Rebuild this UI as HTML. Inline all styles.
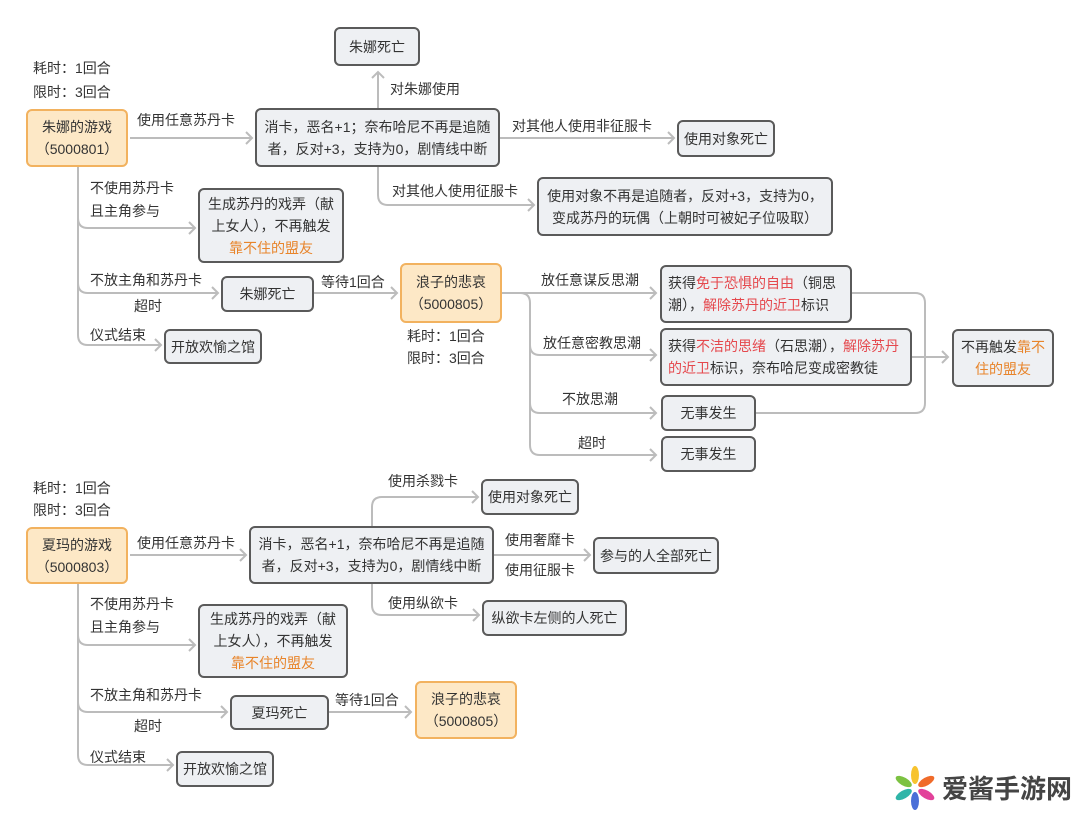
<!DOCTYPE html>
<html><head><meta charset="utf-8"><style>
body{margin:0;width:1080px;height:814px;background:#fff;position:relative;overflow:hidden;font-family:"Liberation Sans","Noto Sans CJK SC",sans-serif;font-size:14px;color:#333}
.b{position:absolute;box-sizing:border-box;border:2px solid #5a5a5a;border-radius:6px;background:#eef0f3;display:flex;align-items:center;justify-content:center;text-align:center;line-height:22px;padding:0 3px}
.b>div{width:100%}
.o{background:#fde8c6;border-color:#f2b25f}
.t{position:absolute;white-space:nowrap;line-height:20px}
.r{color:#e5484d}.y{color:#e8842a}
svg{position:absolute;left:0;top:0}
</style></head><body>
<svg width="1080" height="814" fill="none" stroke="#bcbcbc" stroke-width="2">
<path d="M130 138H252"/><polyline points="246,132 252,138 246,144"/>
<path d="M378 108V72"/><polyline points="372,78 378,72 384,78"/>
<path d="M500 138H674"/><polyline points="668,132 674,138 668,144"/>
<path d="M378 167V195Q378 205 388 205H534"/><polyline points="528,199 534,205 528,211"/>
<path d="M78 167V218Q78 228 88 228H195"/><polyline points="189,222 195,228 189,234"/>
<path d="M78 167V283Q78 293 88 293H218"/><polyline points="212,287 218,293 212,299"/>
<path d="M78 167V335Q78 345 88 345H161"/><polyline points="155,339 161,345 155,351"/>
<path d="M314 293H397"/><polyline points="391,287 397,293 391,299"/>
<path d="M502 293H656"/><polyline points="650,287 656,293 650,299"/>
<path d="M520 293Q530 293 530 303V445Q530 455 540 455H656"/>
<path d="M530 345Q530 355 540 355H656"/><polyline points="650,349 656,355 650,361"/>
<path d="M530 403Q530 413 540 413H656"/><polyline points="650,407 656,413 650,419"/>
<polyline points="650,449 656,455 650,461"/>
<path d="M852 293H915Q925 293 925 303V403Q925 413 915 413H756"/>
<path d="M912 357H948"/><polyline points="942,351 948,357 942,363"/>
<path d="M130 555H246"/><polyline points="240,549 246,555 240,561"/>
<path d="M372 526V507Q372 497 382 497H478"/><polyline points="472,491 478,497 472,503"/>
<path d="M494 555H590"/><polyline points="584,549 590,555 584,561"/>
<path d="M372 584V605Q372 615 382 615H479"/><polyline points="473,609 479,615 473,621"/>
<path d="M78 584V635Q78 645 88 645H195"/><polyline points="189,639 195,645 189,651"/>
<path d="M78 584V702Q78 712 88 712H227"/><polyline points="221,706 227,712 221,718"/>
<path d="M78 584V755Q78 765 88 765H173"/><polyline points="167,759 173,765 167,771"/>
<path d="M329 712H411"/><polyline points="405,706 411,712 405,718"/>
</svg>

<div class="b" style="left:334px;top:27px;width:86px;height:39px"><div>朱娜死亡</div></div>
<div class="t" style="left:33px;top:58px">耗时：1回合</div>
<div class="t" style="left:33px;top:82px">限时：3回合</div>
<div class="b o" style="left:26px;top:109px;width:102px;height:58px"><div>朱娜的游戏<br>（5000801）</div></div>
<div class="t" style="left:137px;top:110px">使用任意苏丹卡</div>
<div class="t" style="left:390px;top:79px">对朱娜使用</div>
<div class="b" style="left:255px;top:108px;width:245px;height:59px"><div>消卡，恶名+1；奈布哈尼不再是追随者，反对+3，支持为0，剧情线中断</div></div>
<div class="t" style="left:512px;top:116px">对其他人使用非征服卡</div>
<div class="b" style="left:677px;top:120px;width:98px;height:37px"><div>使用对象死亡</div></div>
<div class="t" style="left:392px;top:181px">对其他人使用征服卡</div>
<div class="b" style="left:537px;top:177px;width:296px;height:59px"><div>使用对象不再是追随者，反对+3，支持为0，变成苏丹的玩偶（上朝时可被妃子位吸取）</div></div>
<div class="t" style="left:90px;top:178px">不使用苏丹卡</div>
<div class="t" style="left:90px;top:201px">且主角参与</div>
<div class="b" style="left:198px;top:188px;width:146px;height:75px"><div>生成苏丹的戏弄（献<br>上女人），不再触发<br><span class="y">靠不住的盟友</span></div></div>
<div class="t" style="left:90px;top:270px">不放主角和苏丹卡</div>
<div class="t" style="left:134px;top:296px">超时</div>
<div class="b" style="left:221px;top:276px;width:93px;height:36px"><div>朱娜死亡</div></div>
<div class="t" style="left:90px;top:325px">仪式结束</div>
<div class="b" style="left:164px;top:329px;width:98px;height:35px"><div>开放欢愉之馆</div></div>
<div class="t" style="left:321px;top:272px">等待1回合</div>
<div class="b o" style="left:400px;top:263px;width:102px;height:60px"><div>浪子的悲哀<br>（5000805）</div></div>
<div class="t" style="left:407px;top:326px">耗时：1回合</div>
<div class="t" style="left:407px;top:348px">限时：3回合</div>
<div class="t" style="left:541px;top:270px">放任意谋反思潮</div>
<div class="t" style="left:543px;top:333px">放任意密教思潮</div>
<div class="t" style="left:562px;top:389px">不放思潮</div>
<div class="t" style="left:578px;top:433px">超时</div>
<div class="b" style="left:660px;top:265px;width:192px;height:58px;text-align:left;padding:0 6px"><div>获得<span class="r">免于恐惧的自由</span>（铜思潮），<span class="r">解除苏丹的近卫</span>标识</div></div>
<div class="b" style="left:660px;top:328px;width:252px;height:58px;text-align:left;padding:0 6px"><div>获得<span class="r">不洁的思绪</span>（石思潮），<span class="r">解除苏丹的近卫</span>标识，奈布哈尼变成密教徒</div></div>
<div class="b" style="left:661px;top:395px;width:95px;height:36px"><div>无事发生</div></div>
<div class="b" style="left:661px;top:436px;width:95px;height:36px"><div>无事发生</div></div>
<div class="b" style="left:952px;top:329px;width:102px;height:58px"><div>不再触发<span class="y">靠不住的盟友</span></div></div>

<div class="t" style="left:33px;top:478px">耗时：1回合</div>
<div class="t" style="left:33px;top:500px">限时：3回合</div>
<div class="b o" style="left:26px;top:527px;width:102px;height:57px"><div>夏玛的游戏<br>（5000803）</div></div>
<div class="t" style="left:137px;top:533px">使用任意苏丹卡</div>
<div class="b" style="left:249px;top:526px;width:245px;height:58px"><div>消卡，恶名+1，奈布哈尼不再是追随者，反对+3，支持为0，剧情线中断</div></div>
<div class="t" style="left:388px;top:471px">使用杀戮卡</div>
<div class="b" style="left:481px;top:479px;width:98px;height:36px"><div>使用对象死亡</div></div>
<div class="t" style="left:505px;top:530px">使用奢靡卡</div>
<div class="t" style="left:505px;top:560px">使用征服卡</div>
<div class="b" style="left:593px;top:537px;width:126px;height:37px"><div>参与的人全部死亡</div></div>
<div class="t" style="left:388px;top:593px">使用纵欲卡</div>
<div class="b" style="left:482px;top:600px;width:145px;height:36px"><div>纵欲卡左侧的人死亡</div></div>
<div class="t" style="left:90px;top:594px">不使用苏丹卡</div>
<div class="t" style="left:90px;top:617px">且主角参与</div>
<div class="b" style="left:198px;top:604px;width:150px;height:74px"><div>生成苏丹的戏弄（献<br>上女人），不再触发<br><span class="y">靠不住的盟友</span></div></div>
<div class="t" style="left:90px;top:685px">不放主角和苏丹卡</div>
<div class="t" style="left:134px;top:716px">超时</div>
<div class="b" style="left:230px;top:695px;width:99px;height:35px"><div>夏玛死亡</div></div>
<div class="t" style="left:90px;top:747px">仪式结束</div>
<div class="b" style="left:176px;top:751px;width:98px;height:36px"><div>开放欢愉之馆</div></div>
<div class="t" style="left:335px;top:690px">等待1回合</div>
<div class="b o" style="left:415px;top:681px;width:102px;height:58px"><div>浪子的悲哀<br>（5000805）</div></div>

<svg width="1080" height="814" style="pointer-events:none">
<g transform="translate(915,788)">
<ellipse cx="0" cy="-13" rx="4" ry="9" fill="#f7c32e"/>
<ellipse cx="0" cy="13" rx="4" ry="9" fill="#4a6fd8"/>
<ellipse cx="0" cy="-13" rx="4" ry="9" fill="#f06b2a" transform="rotate(60)"/>
<ellipse cx="0" cy="-13" rx="4" ry="9" fill="#e2429a" transform="rotate(120)"/>
<ellipse cx="0" cy="-13" rx="4" ry="9" fill="#2fb5a8" transform="rotate(240)"/>
<ellipse cx="0" cy="-13" rx="4" ry="9" fill="#7cc242" transform="rotate(300)"/>
</g>
</svg>
<div class="t" style="left:942px;top:773px;font-size:26px;line-height:32px;font-weight:bold;color:#444">爱酱手游网</div>
</body></html>
